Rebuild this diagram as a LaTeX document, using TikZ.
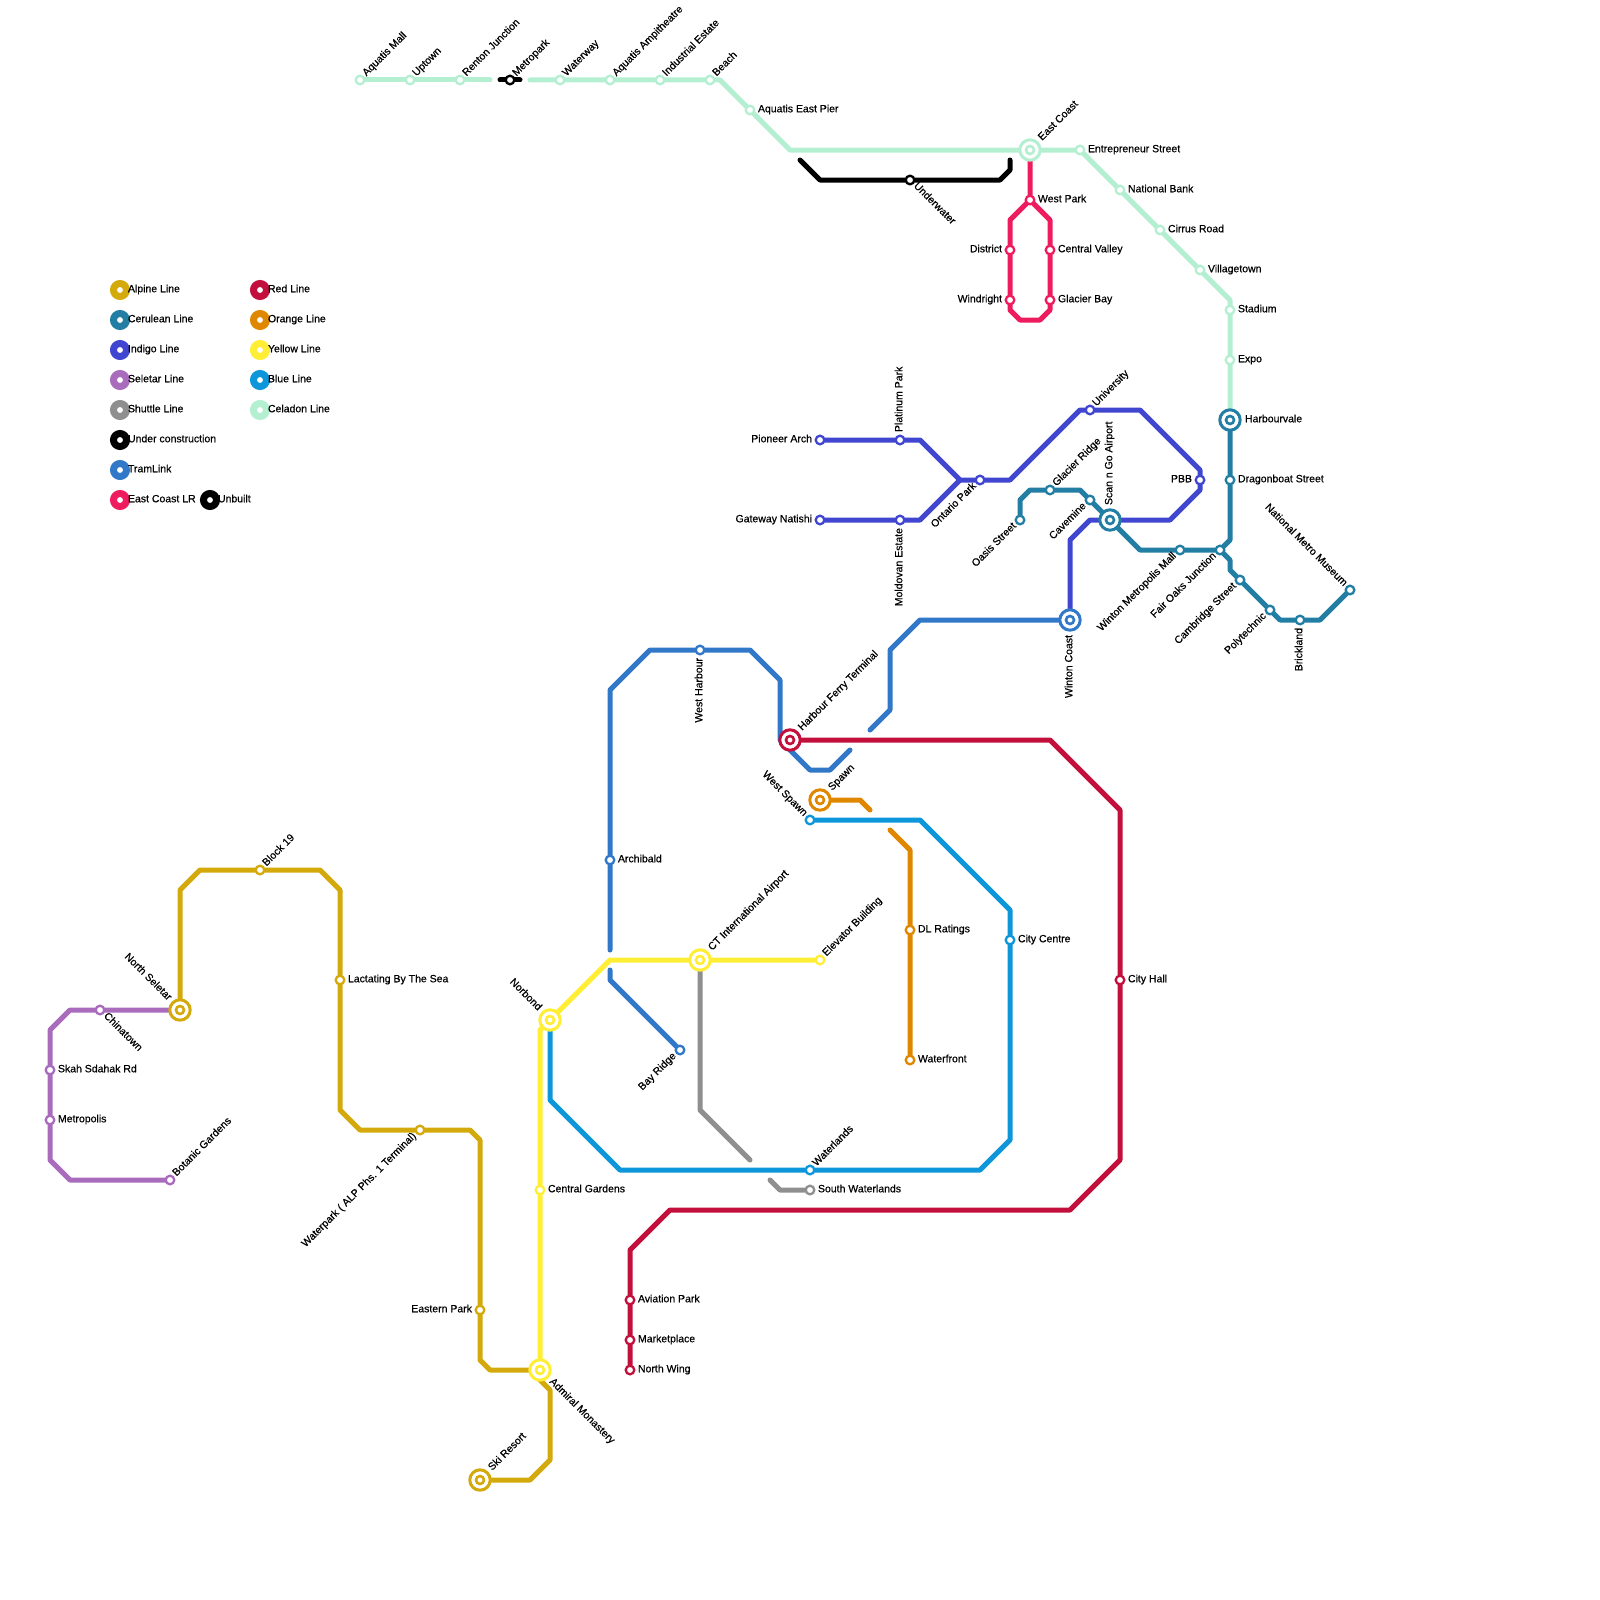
\documentclass[tikz,border=0pt]{standalone}
\usepackage{fontspec}
\setmainfont{Liberation Sans}[FakeBold=0.55]
\usetikzlibrary{backgrounds}
\definecolor{alpine}{HTML}{D4A90B}
\definecolor{cerulean}{HTML}{227EA3}
\definecolor{indigoline}{HTML}{4046D0}
\definecolor{seletar}{HTML}{A96BBC}
\definecolor{shuttle}{HTML}{8F8F8F}
\definecolor{tramlink}{HTML}{3278C8}
\definecolor{eastcoast}{HTML}{EE1C5E}
\definecolor{redline}{HTML}{C20F3C}
\definecolor{orangeline}{HTML}{E08700}
\definecolor{yellowline}{HTML}{FFEE33}
\definecolor{blueline}{HTML}{0D96DA}
\definecolor{celadon}{HTML}{B4EFD2}
\tikzset{
    route/.style={draw=#1, line width=5pt, line cap=round, line join=round},
    stn/.style={circle, draw=#1, fill=white, line width=2.3pt, minimum size=8.6pt, inner sep=0pt, outer sep=0pt},
    core/.style={stn=#1, line width=2.6pt, minimum size=8pt},
    xchg/.style={circle, draw=#1, fill=white, line width=3pt, minimum size=20.4pt, inner sep=0pt, outer sep=0pt},
    keydot/.style={circle, draw=#1, fill=white, line width=7pt, minimum size=13pt, inner sep=0pt, outer sep=0pt},
    lb/.style={inner sep=0pt, outer sep=0pt, text height=4.5pt, text depth=0pt, font=\fontsize{10.5}{12}\selectfont},
    lbR/.style={lb, anchor=west, xshift=#1}, lbR/.default=8pt,
    lbL/.style={lb, anchor=east, xshift=-#1}, lbL/.default=8pt,
    lbU/.style={lb, rotate=90, anchor=west, xshift=#1}, lbU/.default=8pt,
    lbD/.style={lb, rotate=90, anchor=east, xshift=-#1}, lbD/.default=8pt,
    lbUR/.style={lb, rotate=45, anchor=west, xshift=#1}, lbUR/.default=7pt,
    lbDL/.style={lb, rotate=45, anchor=east, xshift=-#1}, lbDL/.default=7pt,
    lbDR/.style={lb, rotate=-45, anchor=west, xshift=#1}, lbDR/.default=7pt,
    lbUL/.style={lb, rotate=-45, anchor=east, xshift=-#1}, lbUL/.default=7pt,
}

\begin{document}
\begin{tikzpicture}[x=10pt, y=-10pt]
    \useasboundingbox (0,0) rectangle (160,160);

    % --- LEGEND ---
    \foreach \n/\x/\y/\col/\txt in {
        keyAlpine/12/29/alpine/Alpine Line, keyCerulean/12/32/cerulean/Cerulean Line,
        keyIndigo/12/35/indigoline/Indigo Line, keySeletar/12/38/seletar/Seletar Line,
        keyShuttle/12/41/shuttle/Shuttle Line, keyUnder/12/44/black/Under construction,
        keyTram/12/47/tramlink/TramLink, keyEast/12/50/eastcoast/East Coast LR,
        keyUnbuilt/21/50/black/Unbuilt, keyRed/26/29/redline/Red Line,
        keyOrange/26/32/orangeline/Orange Line, keyYellow/26/35/yellowline/Yellow Line,
        keyBlue/26/38/blueline/Blue Line, keyCeladon/26/41/celadon/Celadon Line}
    {
        \node[keydot=\col] (\n) at (\x,\y) {};
        \node[lbR] (\n Text) at (\n) {\txt};
    }

    % --- INTERCHANGES ---
    \foreach \n/\x/\y/\col/\side/\txt in {
        eastCoast/103/15/celadon/lbUR/East Coast, harbourvale/123/42/cerulean/lbR/Harbourvale,
        scanGo/111/52/cerulean/lbU/Scan n Go Airport, wintonCoast/107/62/tramlink/lbD/Winton Coast,
        harbourFerry/79/74/redline/lbUR/Harbour Ferry Terminal, spawn/82/80/orangeline/lbUR/Spawn,
        ctAirport/70/96/yellowline/lbUR/CT International Airport, norbond/55/102/yellowline/lbUL/Norbond,
        admiral/54/137/yellowline/lbDR/Admiral Monastery, skiResort/48/148/alpine/lbUR/Ski Resort,
        northSeletar/18/101/alpine/lbUL/North Seletar}
    {
        \node[xchg=\col] (\n) at (\x,\y) {};
        \node[core=\col] (\n Core) at (\n) {};
        \node[\side=15pt] (\n Text) at (\n) {\txt};
    }

    % --- STATIONS ---
    \foreach \col/\list in {
        celadon/{aquatisMall/36/8/lbUR/Aquatis Mall, uptown/41/8/lbUR/Uptown, renton/46/8/lbUR/Renton Junction,
            waterway/56/8/lbUR/Waterway, ampitheatre/61/8/lbUR/Aquatis Ampitheatre, industrial/66/8/lbUR/Industrial Estate,
            beach/71/8/lbUR/Beach, eastPier/75/11/lbR/Aquatis East Pier, entrepreneur/108/15/lbR/Entrepreneur Street,
            nationalBank/112/19/lbR/National Bank, cirrus/116/23/lbR/Cirrus Road, villagetown/120/27/lbR/Villagetown,
            stadium/123/31/lbR/Stadium, expo/123/36/lbR/Expo},
        black/{metropark/51/8/lbUR/Metropark, underwater/91/18/lbDR/Underwater},
        eastcoast/{westPark/103/20/lbR/West Park, district/101/25/lbL/District, windright/101/30/lbL/Windright,
            centralValley/105/25/lbR/Central Valley, glacierBay/105/30/lbR/Glacier Bay},
        cerulean/{dragonboat/123/48/lbR/Dragonboat Street, fairOaks/122/55/lbDL/Fair Oaks Junction,
            metroMall/118/55/lbDL/Winton Metropolis Mall, cavemine/109/50/lbDL/Cavemine, glacierRidge/105/49/lbUR/Glacier Ridge,
            oasis/102/52/lbDL/Oasis Street, cambridge/124/58/lbDL/Cambridge Street, polytechnic/127/61/lbDL/Polytechnic,
            brickland/130/62/lbD/Brickland, metroMuseum/135/59/lbUL/National Metro Museum},
        indigoline/{pioneer/82/44/lbL/Pioneer Arch, platinum/90/44/lbU/Platinum Park, ontario/98/48/lbDL/Ontario Park,
            university/109/41/lbUR/University, pbb/120/48/lbL/PBB, gateway/82/52/lbL/Gateway Natishi,
            moldovan/90/52/lbD/Moldovan Estate},
        tramlink/{westHarbour/70/65/lbD/West Harbour, archibald/61/86/lbR/Archibald, bayRidge/68/105/lbDL/Bay Ridge},
        redline/{cityHall/112/98/lbR/City Hall, aviation/63/130/lbR/Aviation Park, marketplace/63/134/lbR/Marketplace,
            northWing/63/137/lbR/North Wing},
        orangeline/{dlRatings/91/93/lbR/DL Ratings, waterfront/91/106/lbR/Waterfront},
        blueline/{westSpawn/81/82/lbUL/West Spawn, cityCentre/101/94/lbR/City Centre, waterlands/81/117/lbUR/Waterlands},
        yellowline/{elevator/82/96/lbUR/Elevator Building, centralGardens/54/119/lbR/Central Gardens},
        shuttle/{southWaterlands/81/119/lbR/South Waterlands},
        alpine/{block19/26/87/lbUR/Block 19, lactating/34/98/lbR/Lactating By The Sea,
            waterpark/42/113/lbDL/Waterpark ( ALP Phs. 1 Terminal), easternPark/48/131/lbL/Eastern Park},
        seletar/{chinatown/10/101/lbDR/Chinatown, skah/5/107/lbR/Skah Sdahak Rd, metropolis/5/112/lbR/Metropolis,
            botanic/17/118/lbUR/Botanic Gardens}}
    {
        \foreach \n/\x/\y/\side/\txt in \list {
            \node[stn=\col] (\n) at (\x,\y) {};
            \node[\side] (\n Text) at (\n) {\txt};
        }
    }

    % --- BENDS AND LOOSE ENDS ---
    \foreach \n/\x/\y in {
        cel1/49/8, cel2/53/8, cel3/72/8, cel4/79/15, cel5/123/30,
        mpW/50/8, mpE/52/8,
        unc1/80/16, unc2/82/18, unc3/100/18, unc4/101/17, unc5/101/16,
        ecl1/101/22, ecl2/101/31, ecl3/102/32, ecl4/104/32, ecl5/105/31, ecl6/105/22,
        cer1/123/54, cer2/114/55, cer3/108/49, cer4/103/49, cer5/102/50,
        cer6/123/56, cer7/123/57, cer8/128/62, cer9/132/62,
        ind1/92/44, ind2/96/48, ind3/101/48, ind4/108/41, ind5/114/41, ind6/120/47,
        ind7/120/49, ind8/117/52, ind9/109/52, ind10/107/54, ind11/92/52,
        tra1/87/73, tra2/89/71, tra3/89/65, tra4/92/62,
        tra5/85/75, tra6/83/77, tra7/81/77, tra8/78/74, tra9/78/68, tra10/75/65,
        tra11/65/65, tra12/61/69, tra13/61/95, tra14/61/97, tra15/61/98,
        red1/105/74, red2/112/81, red3/112/116, red4/107/121, red5/67/121, red6/63/125,
        ora1/86/80, ora2/87/81, ora3/89/83, ora4/91/85,
        blu1/92/82, blu2/101/91, blu3/101/114, blu4/98/117, blu5/62/117, blu6/55/110,
        yel1/61/96, yel2/54/103,
        shu1/70/111, shu2/75/116, shu3/77/118, shu4/78/119,
        alp1/18/89, alp2/20/87, alp3/32/87, alp4/34/89, alp5/34/111, alp6/36/113,
        alp7/47/113, alp8/48/114, alp9/48/136, alp10/49/137, alp11/54/138, alp12/55/139,
        alp13/55/146, alp14/53/148,
        sel1/7/101, sel2/5/103, sel3/5/116, sel4/7/118}
        \coordinate (\n) at (\x,\y);

    % --- LINES ---
    \begin{scope}[on background layer]
        \draw[route=shuttle] (ctAirport) -- (shu1) -- (shu2);
        \draw[route=shuttle] (shu3) -- (shu4) -- (southWaterlands);
        \draw[route=celadon] (aquatisMall) -- (uptown) -- (renton) -- (cel1);
        \draw[route=celadon] (cel2) -- (waterway) -- (ampitheatre) -- (industrial) -- (beach) -- (cel3) -- (eastPier) -- (cel4) -- (eastCoast) -- (entrepreneur) -- (nationalBank) -- (cirrus) -- (villagetown) -- (cel5) -- (stadium) -- (expo) -- (harbourvale);
        \draw[route=black] (mpW) -- (metropark) -- (mpE);
        \draw[route=black] (unc1) -- (unc2) -- (underwater) -- (unc3) -- (unc4) -- (unc5);
        \draw[route=eastcoast] (eastCoast) -- (westPark) -- (ecl1) -- (district) -- (windright) -- (ecl2) -- (ecl3) -- (ecl4) -- (ecl5) -- (glacierBay) -- (centralValley) -- (ecl6) -- (westPark);
        \draw[route=cerulean] (harbourvale) -- (dragonboat) -- (cer1) -- (fairOaks) -- (metroMall) -- (cer2) -- (scanGo) -- (cavemine) -- (cer3) -- (glacierRidge) -- (cer4) -- (cer5) -- (oasis);
        \draw[route=cerulean] (fairOaks) -- (cer6) -- (cer7) -- (cambridge) -- (polytechnic) -- (cer8) -- (brickland) -- (cer9) -- (metroMuseum);
        \draw[route=indigoline] (pioneer) -- (platinum) -- (ind1) -- (ind2) -- (ontario) -- (ind3) -- (ind4) -- (university) -- (ind5) -- (ind6) -- (pbb) -- (ind7) -- (ind8) -- (scanGo) -- (ind9) -- (ind10) -- (wintonCoast);
        \draw[route=indigoline] (gateway) -- (moldovan) -- (ind11) -- (ind2);
        \draw[route=tramlink] (wintonCoast) -- (tra4) -- (tra3) -- (tra2) -- (tra1);
        \draw[route=tramlink] (tra5) -- (tra6) -- (tra7) -- (tra8) -- (tra9) -- (tra10) -- (westHarbour) -- (tra11) -- (tra12) -- (archibald) -- (tra13);
        \draw[route=tramlink] (tra14) -- (tra15) -- (bayRidge);
        \draw[route=redline] (harbourFerry) -- (red1) -- (red2) -- (cityHall) -- (red3) -- (red4) -- (red5) -- (red6) -- (aviation) -- (marketplace) -- (northWing);
        \draw[route=orangeline] (spawn) -- (ora1) -- (ora2);
        \draw[route=orangeline] (ora3) -- (ora4) -- (dlRatings) -- (waterfront);
        \draw[route=blueline] (westSpawn) -- (blu1) -- (blu2) -- (cityCentre) -- (blu3) -- (blu4) -- (waterlands) -- (blu5) -- (blu6) -- (norbond);
        \draw[route=yellowline] (elevator) -- (ctAirport) -- (yel1) -- (norbond) -- (yel2) -- (centralGardens) -- (admiral);
        \draw[route=alpine] (northSeletar) -- (alp1) -- (alp2) -- (block19) -- (alp3) -- (alp4) -- (lactating) -- (alp5) -- (alp6) -- (waterpark) -- (alp7) -- (alp8) -- (easternPark) -- (alp9) -- (alp10) -- (admiral) -- (alp11) -- (alp12) -- (alp13) -- (alp14) -- (skiResort);
        \draw[route=seletar] (northSeletar) -- (chinatown) -- (sel1) -- (sel2) -- (skah) -- (metropolis) -- (sel3) -- (sel4) -- (botanic);
    \end{scope}
\end{tikzpicture}
\end{document}
